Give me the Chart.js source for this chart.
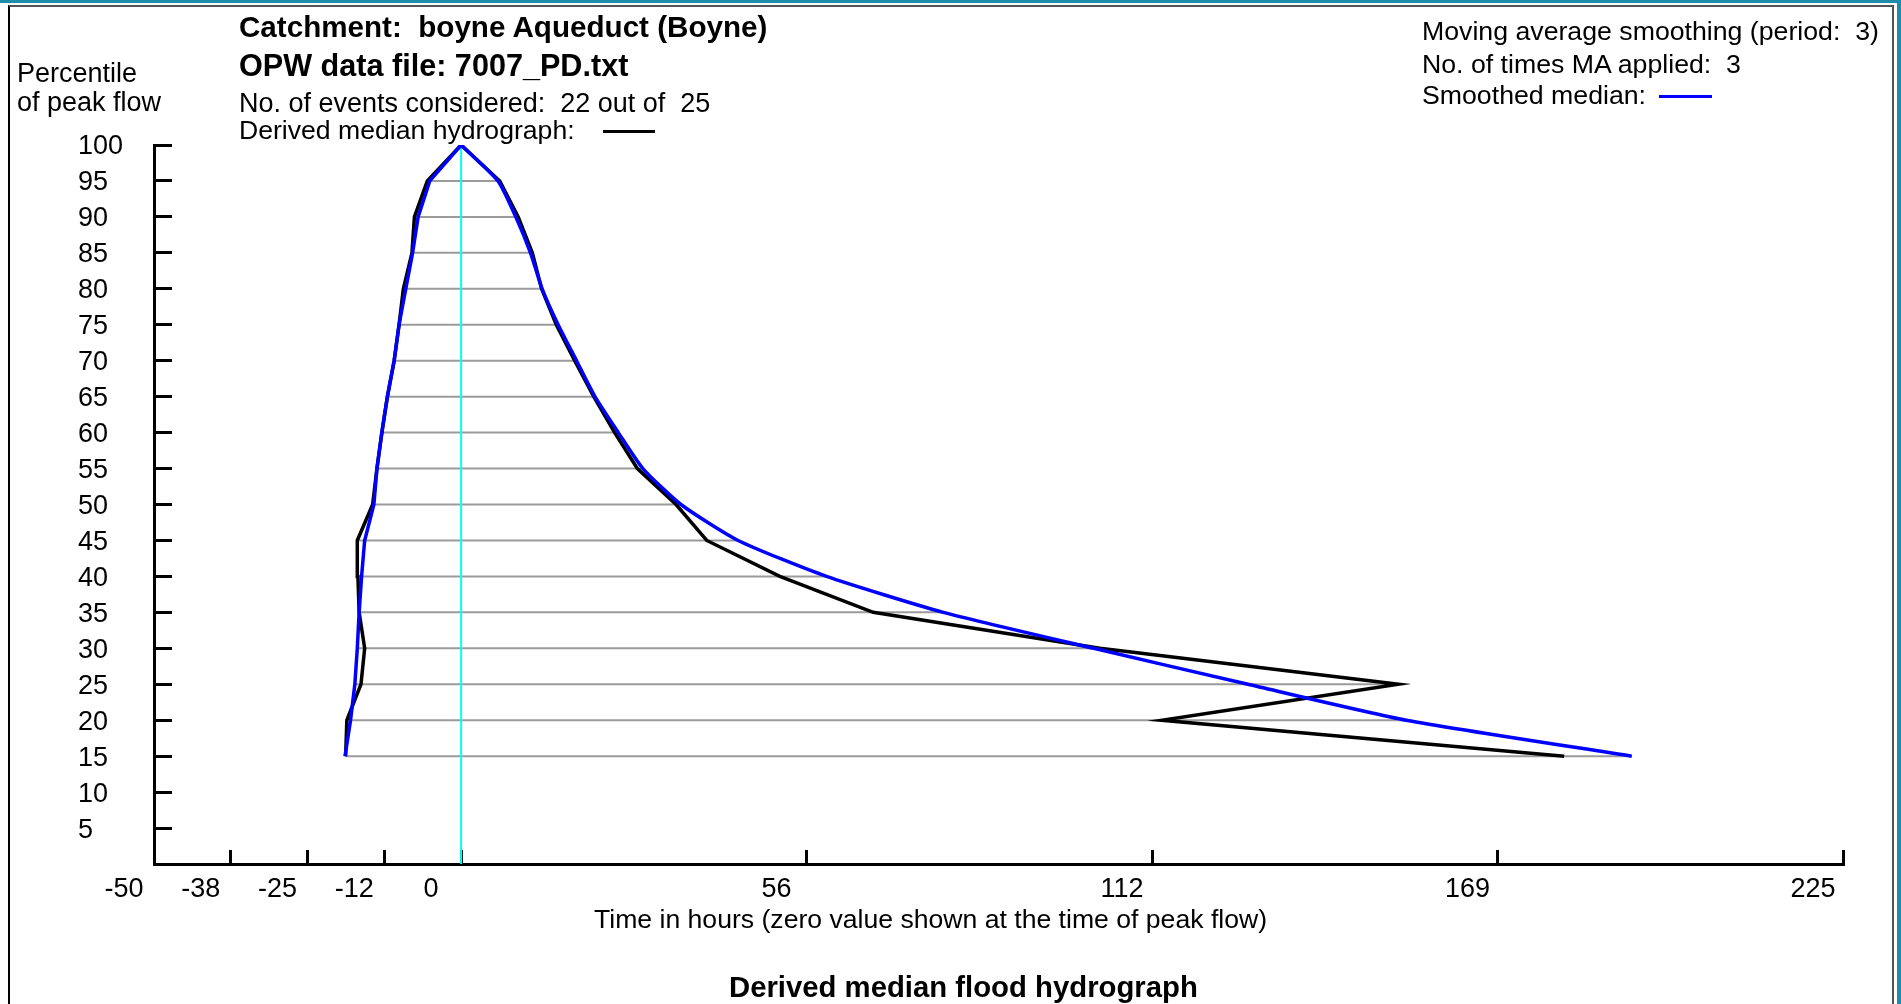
<!DOCTYPE html>
<html>
<head>
<meta charset="utf-8">
<title>Derived median flood hydrograph</title>
<script src="https://cdn.jsdelivr.net/npm/chart.js@4.4.1/dist/chart.umd.min.js"></script>
<style>
  html, body { margin: 0; padding: 0; background: #fff; }
  #wrap { position: relative; width: 1901px; height: 1004px; overflow: hidden; background: #fff;
          font-family: "Liberation Sans", Arial, sans-serif; color: #000; }
  #chart { position: absolute; left: 0; top: 0; }
  .t { position: absolute; white-space: pre; font-size: 27px; line-height: 27px; }
  .b { font-weight: bold; font-size: 30px; line-height: 30px; }
  .mark { position: absolute; height: 3px; }
  #frameTop { position: absolute; left: 0; top: 0; width: 1901px; height: 3px; background: #1e8cab; }
  #frameRight { position: absolute; right: 0; top: 0; width: 4px; height: 1004px; background: #1e8cab; }
  #frame { position: absolute; left: 8px; top: 5px; width: 1886px; height: 1010px;
           border-left: 2px solid #000; border-top: 2px solid #555; border-right: 2px solid #555; box-sizing: border-box; }
</style>
</head>
<body>
<div id="wrap">
  <canvas id="chart" width="1901" height="1004"></canvas>
  <div id="frameTop"></div>
  <div id="frameRight"></div>
  <div id="frame"></div>

  <div class="t b" style="left:239px; top:12px; font-size:29.6px;">Catchment:  boyne Aqueduct (Boyne)</div>
  <div class="t b" style="left:239px; top:50px; font-size:30.6px;">OPW data file: 7007_PD.txt</div>
  <div class="t" style="left:239px; top:90px;">No. of events considered:  22 out of  25</div>
  <div class="t" style="left:239px; top:117px; font-size:26.6px;">Derived median hydrograph:</div>
  <div class="mark" style="left:603px; top:130px; width:52px; background:#000;"></div>

  <div class="t" style="left:17px; top:60px;">Percentile</div>
  <div class="t" style="left:17px; top:89px;">of peak flow</div>

  <div class="t" style="left:1422px; top:18px; font-size:26.7px;">Moving average smoothing (period:  3)</div>
  <div class="t" style="left:1422px; top:51px; font-size:26.7px;">No. of times MA applied:  3</div>
  <div class="t" style="left:1422px; top:82px; font-size:26.7px;">Smoothed median:</div>
  <div class="mark" style="left:1659px; top:95px; width:53px; background:#0000ff;"></div>

  <div class="t" style="left:594px; top:906px; font-size:26.6px;">Time in hours (zero value shown at the time of peak flow)</div>
  <div class="t b" style="left:729px; top:972px; font-size:29.3px;">Derived median flood hydrograph</div>
</div>

<script>
// percentile of peak flow at which the hydrograph width is measured
var pctLevels = [15, 20, 25, 30, 35, 40, 45, 50, 55, 60, 65, 70, 75, 80, 85, 90, 95];
var peakPct = 100;
var peakTime = 0;

// derived median hydrograph, hours relative to peak
var medianRising  = [-18.8, -18.6, -16.3, -15.7, -16.6, -16.8, -16.9, -14.4, -13.7, -12.9, -12.0, -10.9, -10.1, -9.4, -8.0, -7.6, -5.5];
var medianFalling = [179.6, 114.1, 152.6, 104, 67.1, 51.9, 40.0, 35.0, 28.7, 25.0, 21.6, 18.5, 15.5, 13.1, 11.6, 9.3, 6.3];

// smoothed median (moving average, period 3, applied 3 times)
var smoothRising  = [-18.9, -18.0, -17.3, -16.9, -16.6, -16.2, -15.7, -14.2, -13.7, -12.9, -12.0, -10.9, -10.1, -9.0, -7.9, -7.0, -5.1];
var smoothFalling = [190.6, 153.9, 128.1, 103, 78.5, 59.5, 45.1, 35.8, 29.6, 25.6, 21.8, 18.8, 15.8, 13.2, 11.3, 8.9, 6.0];

// axis ticks
var xTickValues = [-50, -37.5, -25, -12.5, 0, 56.25, 112.5, 168.75, 225];
var xTickLabels = ["-50", "-38", "-25", "-12", "0", "56", "112", "169", "225"];
var yTickValues = [0, 5, 10, 15, 20, 25, 30, 35, 40, 45, 50, 55, 60, 65, 70, 75, 80, 85, 90, 95, 100];

function risingLimb(rise) {
  var pts = pctLevels.map(function(p, i) { return {x: rise[i], y: p}; });
  pts.push({x: peakTime, y: peakPct});
  return pts;
}
function fallingLimb(fall) {
  var pts = [{x: peakTime, y: peakPct}];
  for (var i = pctLevels.length - 1; i >= 0; i--) pts.push({x: fall[i], y: pctLevels[i]});
  return pts;
}

var datasets = [
  { data: risingLimb(smoothRising), borderColor: "#0000ff", borderWidth: 3.5, order: 0 },
  { data: fallingLimb(smoothFalling), borderColor: "#0000ff", borderWidth: 3.5, tension: 0.2, order: 0 },
  { data: risingLimb(medianRising).concat(fallingLimb(medianFalling).slice(1)), borderColor: "#000000", borderWidth: 3.5, order: 1 },
  { data: [{x: peakTime, y: 0}, {x: peakTime, y: peakPct}], borderColor: "#00ffff", borderWidth: 2, order: 2 }
];

// grey width lines at each percentile
pctLevels.forEach(function(p, i) {
  datasets.push({
    data: [{x: Math.min(medianRising[i], smoothRising[i]), y: p},
           {x: Math.max(medianFalling[i], smoothFalling[i]), y: p}],
    borderColor: "#9b9b9b", borderWidth: 2, order: 3
  });
});

Chart.defaults.font.family = "'Liberation Sans', Arial, sans-serif";
Chart.defaults.color = "#000";

var ctx = document.getElementById("chart").getContext("2d");
var chart = new Chart(ctx, {
  type: "line",
  data: { datasets: datasets },
  options: {
    responsive: false,
    animation: false,
    devicePixelRatio: 1,
    events: [],
    layout: { padding: { left: 78, top: 145, right: 58, bottom: 0 } },
    elements: { point: { radius: 0 }, line: { tension: 0, fill: false } },
    plugins: { legend: { display: false }, tooltip: { enabled: false } },
    scales: {
      x: {
        type: "linear", min: -50, max: 225,
        afterBuildTicks: function(s) { s.ticks = xTickValues.map(function(v) { return {value: v}; }); },
        afterFit: function(s) { s.height = 140; },
        border: { display: true, color: "#000", width: 3 },
        grid: { drawOnChartArea: false, drawTicks: true, tickLength: -14, tickWidth: 3, tickColor: "#000" },
        ticks: {
          autoSkip: false, maxRotation: 0, padding: 23, labelOffset: -30,
          font: { size: 27 },
          callback: function(v, i) { return xTickLabels[i]; }
        }
      },
      y: {
        type: "linear", min: 0, max: 100,
        afterBuildTicks: function(s) { s.ticks = yTickValues.map(function(v) { return {value: v}; }); },
        afterFit: function(s) { s.width = 76; },
        border: { display: true, color: "#000", width: 3 },
        grid: { drawOnChartArea: false, drawTicks: true, tickLength: -18, tickWidth: 3, tickColor: "#000" },
        ticks: {
          autoSkip: false, crossAlign: "far", font: { size: 27 }, labelOffset: 2,
          callback: function(v) { return v === 0 ? "" : String(v); }
        }
      }
    }
  }
});
</script>
</body>
</html>
